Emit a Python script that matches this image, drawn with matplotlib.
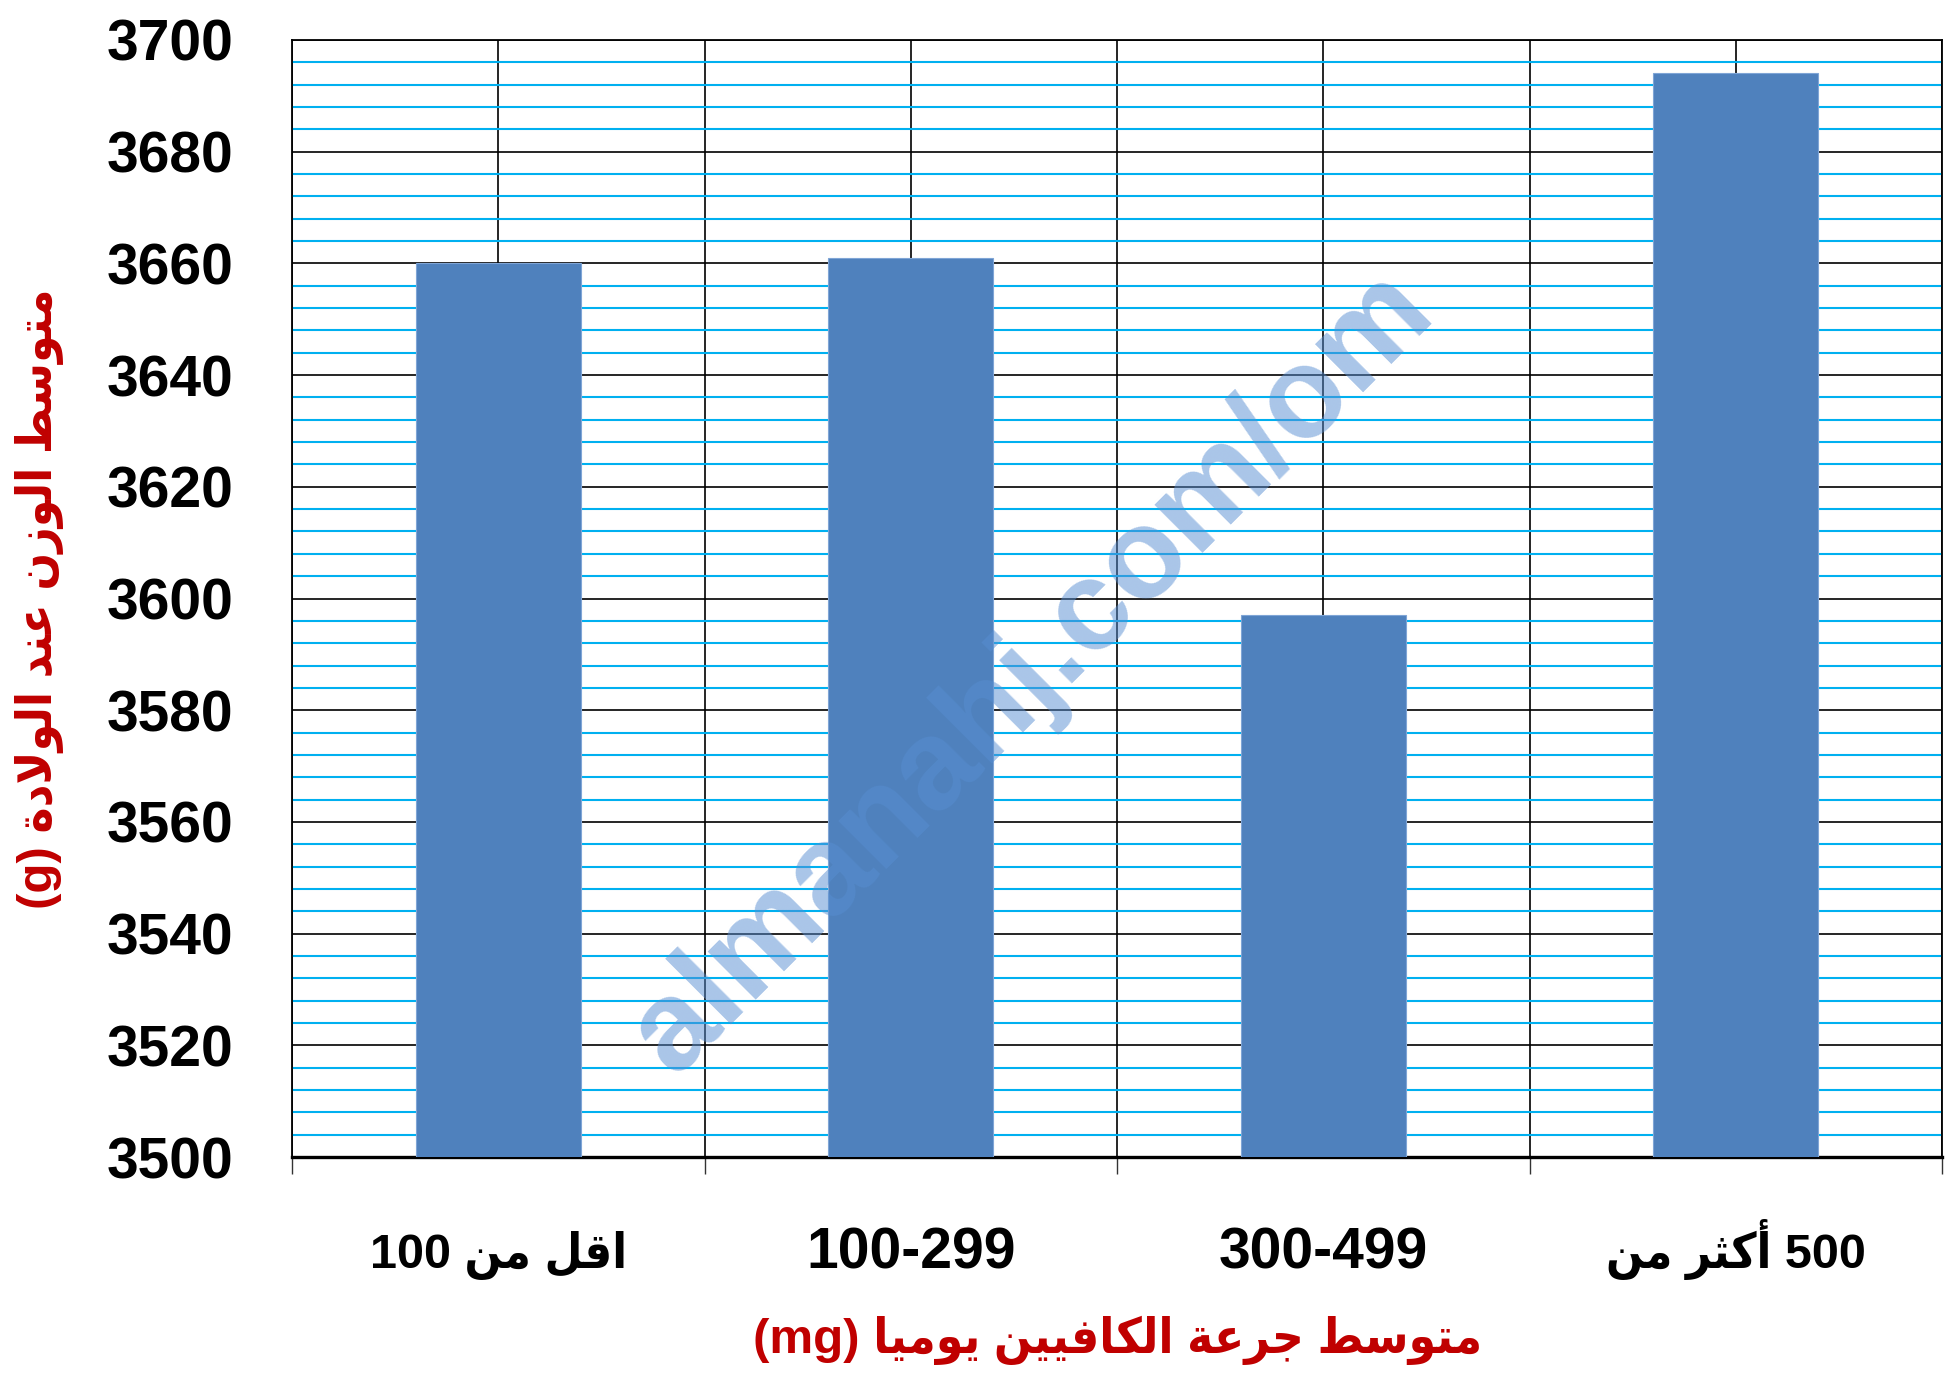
import numpy as np
import matplotlib
matplotlib.use('Agg')
import matplotlib.pyplot as plt

plt.rcParams['font.family'] = ['Liberation Sans', 'DejaVu Sans']

# data
categories = ['اقل من 100', '100-299', '300-499', '500 أكثر من']
weights = [3660, 3661, 3597, 3694]
x_title = 'متوسط جرعة الكافيين يوميا (mg)'
y_title = 'متوسط الوزن عند الولادة (g)'
watermark = 'almanahj.com/om'

# arabic presentation forms: isolated, final, initial, medial
FORMS = {
    'ا': (0xFE8D, 0xFE8E, None, None),
    'أ': (0xFE83, 0xFE84, None, None),
    'ة': (0xFE93, 0xFE94, None, None),
    'ت': (0xFE95, 0xFE96, 0xFE97, 0xFE98),
    'ث': (0xFE99, 0xFE9A, 0xFE9B, 0xFE9C),
    'ج': (0xFE9D, 0xFE9E, 0xFE9F, 0xFEA0),
    'د': (0xFEA9, 0xFEAA, None, None),
    'ر': (0xFEAD, 0xFEAE, None, None),
    'ز': (0xFEAF, 0xFEB0, None, None),
    'س': (0xFEB1, 0xFEB2, 0xFEB3, 0xFEB4),
    'ط': (0xFEC1, 0xFEC2, 0xFEC3, 0xFEC4),
    'ع': (0xFEC9, 0xFECA, 0xFECB, 0xFECC),
    'ف': (0xFED1, 0xFED2, 0xFED3, 0xFED4),
    'ق': (0xFED5, 0xFED6, 0xFED7, 0xFED8),
    'ك': (0xFED9, 0xFEDA, 0xFEDB, 0xFEDC),
    'ل': (0xFEDD, 0xFEDE, 0xFEDF, 0xFEE0),
    'م': (0xFEE1, 0xFEE2, 0xFEE3, 0xFEE4),
    'ن': (0xFEE5, 0xFEE6, 0xFEE7, 0xFEE8),
    'و': (0xFEED, 0xFEEE, None, None),
    'ي': (0xFEF1, 0xFEF2, 0xFEF3, 0xFEF4),
    'لا': (0xFEFB, 0xFEFC, None, None),
    'لأ': (0xFEF7, 0xFEF8, None, None),
}


def shape_word(word):
    chars = []
    i = 0
    while i < len(word):
        if word[i] == 'ل' and i + 1 < len(word) and word[i + 1] in 'اأ':
            chars.append(word[i:i + 2])
            i += 2
        else:
            chars.append(word[i])
            i += 1
    out = []
    for k, c in enumerate(chars):
        f = FORMS[c]
        prev = chars[k - 1] if k > 0 else None
        nxt = chars[k + 1] if k + 1 < len(chars) else None
        jp = prev is not None and FORMS[prev][2] is not None
        jn = nxt is not None and f[2] is not None
        if jp and jn:
            code = f[3]
        elif jp:
            code = f[1]
        elif jn:
            code = f[2]
        else:
            code = f[0]
        out.append(chr(code))
    return ''.join(reversed(out))


def has_arabic(s):
    return any(ch in FORMS for ch in s)


def visual(text):
    words = []
    for w in text.split(' '):
        words.append(shape_word(w) if has_arabic(w) else w)
    return ' '.join(reversed(words))


fig = plt.figure(figsize=(19.55, 13.88), dpi=100)
ax = fig.add_axes([0.1494, 0.1664, 0.8440, 0.8048])

x = np.arange(len(weights))
ax.bar(x, weights, width=0.4, color='#4F81BD', edgecolor='#7FA5D6',
       linewidth=0.8, zorder=3)

ax.set_ylim(3500, 3700)
ax.set_xlim(-0.5, len(weights) - 0.5)
ax.set_yticks(np.arange(3500, 3701, 20))
ax.set_yticks(np.arange(3500, 3701, 4), minor=True)
ax.set_xticks(np.arange(len(weights) + 1) - 0.5)
ax.set_xticklabels([])
ax.set_xticks(x, [visual(c) for c in categories], minor=True)

ax.set_axisbelow(True)
ax.yaxis.grid(True, which='minor', color='#00B0F0', linewidth=1.5, zorder=0)
ax.yaxis.grid(True, which='major', color='black', linewidth=1.2, zorder=1)
ax.xaxis.grid(True, which='both', color='black', linewidth=1.2, zorder=1)

ax.tick_params(axis='y', which='both', length=0, pad=42, labelsize=41)
ax.tick_params(axis='x', which='major', length=12, width=1, color='#333333')
ax.tick_params(axis='x', which='minor', length=0, pad=80, labelsize=41)
for lab in ax.get_yticklabels():
    lab.set_fontweight('bold')
for lab, c in zip(ax.get_xticklabels(minor=True), categories):
    lab.set_fontweight('bold')
    lab.set_verticalalignment('baseline')
    if has_arabic(c):
        lab.set_fontsize(35)
        lab.set_fontstretch('condensed')

for s in ['left', 'right', 'top']:
    ax.spines[s].set_linewidth(1.3)
ax.spines['bottom'].set_linewidth(2.4)

ax.set_xlabel(visual(x_title), fontsize=35.5, fontweight='bold',
              fontstretch='condensed', color='#C00000', va='center')
ax.xaxis.set_label_coords(0.5, -0.164)
ax.set_ylabel(visual(y_title), fontsize=35.5, fontweight='bold',
              fontstretch='condensed', color='#C00000', va='center')
ax.yaxis.set_label_coords(-0.153, 0.5)

fig.text(0.528, 0.515, watermark, rotation=45, fontsize=92,
         fontweight='bold', color='#578ED2', alpha=0.51,
         ha='center', va='center', zorder=10)

fig.savefig('out.png', dpi=100)
